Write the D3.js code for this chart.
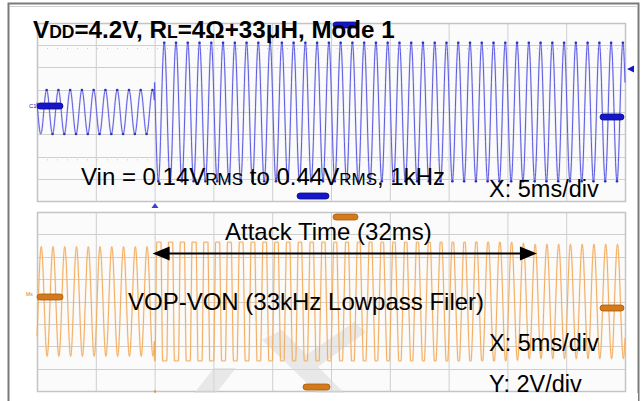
<!DOCTYPE html>
<html><head><meta charset="utf-8">
<script src="https://cdn.jsdelivr.net/npm/d3@7"></script>
<style>
body{margin:0;background:#fff}
svg{display:block}
text{font-family:"Liberation Sans",Arial,Helvetica,sans-serif}
</style>
</head><body>
<svg id="c" width="643" height="401"></svg>
<script>
// ---- measurement setup ----
const timeTicksMs = [0, 5, 10, 15, 20, 25, 30, 35, 40, 45, 50];   // 5 ms/div
const inputTicksV = [-0.8, -0.6, -0.4, -0.2, 0, 0.2, 0.4, 0.6, 0.8]; // 0.2 V/div
const outputTicksV = [-8, -6, -4, -2, 0, 2, 4, 6, 8];               // 2 V/div
const inputLevelsVrms = [0.14, 0.44];   // before / after the level step
const stepTimesMs = [10];
const attackTimesMs = [32];
const toneFreqKHz = [1];
const crestTimesMs = [0.82, 0.36];      // first positive crest: input, output
const outputLimitV = [5.3];             // output swing limit
// AGC gain (V/V) through the attack
const agcTimesMs = [0, 10, 18, 26, 34, 42, 50];
const agcGains   = [24.7, 24.7, 17, 12.6, 9.9, 8.2, 8.2];

const svg = d3.select("#c");
const W = 643, H = 401;

// ---- scales ----
const x = d3.scaleLinear().domain([0, 50]).range([37, 625]);
const yIn = d3.scaleLinear().domain([-0.8, 0.8]).range([201, 23]);
const yOut = d3.scaleLinear().domain([-8, 8]).range([391, 212]);
const gain = d3.scaleLinear().domain(agcTimesMs).range(agcGains).clamp(true);

// ---- frame ----
svg.append("rect").attr("x", 0).attr("y", 0).attr("width", W).attr("height", H).attr("fill", "#fff");
svg.append("rect").attr("x", 8.5).attr("y", 3.5).attr("width", 630).attr("height", 420)
  .attr("fill", "#fff").attr("stroke", "#7a7a7a").attr("stroke-width", 2);
svg.append("line").attr("x1", 10).attr("x2", 638).attr("y1", 6.5).attr("y2", 6.5).attr("stroke", "#d0d0d0");

// ---- graticules ----
function graticule(yScale, ticks) {
  const g = svg.append("g");
  const [y0, y1] = yScale.range();
  g.append("rect").attr("x", x(0)).attr("y", y1).attr("width", x(50) - x(0)).attr("height", y0 - y1)
    .attr("fill", "#fbfbfb");
  g.selectAll(".v").data(timeTicksMs).join("line")
    .attr("x1", d => x(d) + 0.5).attr("x2", d => x(d) + 0.5).attr("y1", y1).attr("y2", y0)
    .attr("stroke", "#cfcfcf").attr("stroke-width", 1);
  g.selectAll(".h").data(ticks).join("line")
    .attr("x1", x(0)).attr("x2", x(50)).attr("y1", d => Math.round(yScale(d)) + 0.5).attr("y2", d => Math.round(yScale(d)) + 0.5)
    .attr("stroke", "#cfcfcf").attr("stroke-width", 1);
  g.append("rect").attr("x", x(0) + 0.5).attr("y", y1 + 0.5).attr("width", x(50) - x(0)).attr("height", y0 - y1)
    .attr("fill", "none").attr("stroke", "#c4c4c4").attr("stroke-width", 1.5);
  return g;
}
graticule(yIn, inputTicksV);
graticule(yOut, outputTicksV);
// faint dotted trigger rows on the input screen
[0.57, -0.43].forEach(v => {
  svg.append("line").attr("x1", x(0)).attr("x2", x(50)).attr("y1", yIn(v)).attr("y2", yIn(v))
    .attr("stroke", "#c8c8c8").attr("stroke-dasharray", "1 9");
});

// ---- watermark ----
const wm = svg.append("g").attr("fill", "#d9d9d9").attr("opacity", 0.55);
wm.append("polygon").attr("points", "188,401 210,401 236,368 214,368");
wm.append("polygon").attr("points", "262,340 282,330 352,401 326,401");
wm.append("polygon").attr("points", "296,362 308,374 366,332 354,322");

// ---- traces ----
const f = toneFreqKHz[0];
const tStep = stepTimesMs[0];
const samples = d3.range(0, 50.0001, 0.02);
function inputV(t, crest) {
  const vrms = t < tStep ? inputLevelsVrms[0] : inputLevelsVrms[1];
  return vrms * Math.SQRT2 * Math.cos(2 * Math.PI * f * (t - crest));
}
const inPts = samples.map(t => [t, inputV(t, crestTimesMs[0])]);
const outPts = samples.map(t => {
  const v = gain(t) * inputV(t, crestTimesMs[1]);
  return [t, Math.max(-outputLimitV[0], Math.min(outputLimitV[0], v))];
});

function trace(pts, yScale, halo, core, w) {
  const line = d3.line().x(d => x(d[0])).y(d => yScale(d[1]));
  svg.append("path").attr("d", line(pts)).attr("fill", "none")
    .attr("stroke", halo).attr("stroke-width", 2).attr("stroke-opacity", 0.35);
  svg.append("path").attr("d", line(pts)).attr("fill", "none")
    .attr("stroke", core).attr("stroke-width", w);
}
trace(inPts, yIn, "#aeb0f2", "#5c5ce2", 1);
trace(outPts, yOut, "#f8d0a0", "#f2a650", 0.9);

// crest dots
const inCrests = d3.range(0, 50).map(n => crestTimesMs[0] + n * (1 / f)).filter(t => t <= 50);
svg.append("g").selectAll("circle").data(inCrests.flatMap(t => [[t, 1], [t + 0.5 / f, -1]]).filter(d => d[0] <= 50))
  .join("circle").attr("cx", d => x(d[0])).attr("cy", d => yIn(inputV(d[0], crestTimesMs[0])))
  .attr("r", 1.3).attr("fill", "#3030c0");

// ---- channel markers ----
function pill(cx0, cx1, cy, fill, stroke) {
  svg.append("rect").attr("x", cx0).attr("y", cy - 3).attr("width", cx1 - cx0).attr("height", 6)
    .attr("rx", 3).attr("fill", fill).attr("stroke", stroke).attr("stroke-width", 0.8);
}
const blue = "#1616c8", blueEdge = "#0a0a90", orange = "#d47a1c", orangeEdge = "#a85a08";
pill(37, 63, 106, blue, blueEdge);
pill(333, 358, 25, blue, blueEdge);
pill(297, 329, 196, blue, blueEdge);
pill(600, 624, 117, blue, blueEdge);
svg.append("path").attr("d", "M627,69 L634,65.5 L634,72.5 Z").attr("fill", blue);
svg.append("path").attr("d", "M155,203 L151.5,208 L158.5,208 Z").attr("fill", "#4040d0");
svg.append("text").attr("x", 29).attr("y", 108).attr("font-size", 6).attr("fill", blue).text("C1");

pill(37, 63, 297, orange, orangeEdge);
pill(333, 358, 217, orange, orangeEdge);
pill(303, 330, 387, orange, orangeEdge);
pill(600, 624, 308, orange, orangeEdge);
svg.append("text").attr("x", 26).attr("y", 296).attr("font-size", 5).attr("fill", orange).text("Ms");
svg.append("line").attr("x1", 155).attr("x2", 155).attr("y1", 390).attr("y2", 396).attr("stroke", orange);

// ---- labels ----
const title = svg.append("text").attr("x", 33).attr("y", 38).attr("font-size", 24.2)
  .attr("font-weight", "bold").attr("fill", "#000");
title.append("tspan").text("V");
title.append("tspan").attr("font-size", 17.5).text("DD");
title.append("tspan").text("=4.2V, R");
title.append("tspan").attr("font-size", 17.5).text("L");
title.append("tspan").text("=4Ω+33μH, Mode 1");

const vin = svg.append("text").attr("x", 81).attr("y", 185).attr("font-size", 24).attr("fill", "#000");
vin.append("tspan").text("Vin = 0.14V");
vin.append("tspan").attr("font-size", 17).text("RMS");
vin.append("tspan").text(" to 0.44V");
vin.append("tspan").attr("font-size", 17).text("RMS");
vin.append("tspan").text(", 1kHz");

svg.append("text").attr("x", 489).attr("y", 197).attr("font-size", 23.5).text("X: 5ms/div");
svg.append("text").attr("x", 225).attr("y", 240).attr("font-size", 24).text(`Attack Time (${attackTimesMs[0]}ms)`);
svg.append("text").attr("x", 128).attr("y", 310).attr("font-size", 24).text("VOP-VON (33kHz Lowpass Filer)");
svg.append("text").attr("x", 489).attr("y", 351).attr("font-size", 23.5).text("X: 5ms/div");
svg.append("text").attr("x", 489).attr("y", 392).attr("font-size", 23.5).text("Y: 2V/div");
svg.append("rect").attr("x", 10).attr("y", 393).attr("width", 628).attr("height", 8).attr("fill", "#fff");

// ---- attack-time arrow ----
const ay = 253.5;
const a0 = x(tStep) - 2, a1 = x(tStep + attackTimesMs[0]) + 6;
svg.append("line").attr("x1", a0 + 14).attr("x2", a1 - 14).attr("y1", ay).attr("y2", ay)
  .attr("stroke", "#000").attr("stroke-width", 2.2);
svg.append("path").attr("d", `M${a0},${ay} L${a0 + 17},${ay - 7} L${a0 + 17},${ay + 7} Z`).attr("fill", "#000");
svg.append("path").attr("d", `M${a1},${ay} L${a1 - 17},${ay - 7} L${a1 - 17},${ay + 7} Z`).attr("fill", "#000");
</script>
</body></html>
